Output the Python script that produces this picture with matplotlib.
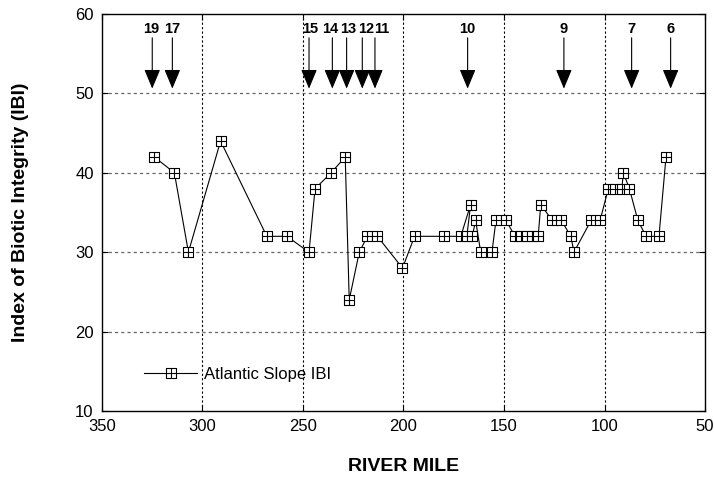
import matplotlib
matplotlib.use("Agg")
import matplotlib.pyplot as plt
from matplotlib.path import Path

plt.rcParams['font.family'] = ['Liberation Sans', 'DejaVu Sans']

# ---- data ----
river_mile = [324, 314, 307, 291, 268, 258, 247, 244, 236, 229, 227, 222, 218, 213,
              200.5, 194.5, 180, 171.5, 166.6, 168.5, 165.8, 164.1, 161.6, 156, 154, 149,
              144.5, 141.5, 138.7, 135.9, 133, 131.7, 126, 121.5, 116.7, 115.2,
              106.7, 102.2, 98.1, 94.8, 91.4, 90.6, 87.6, 83.4, 79.3, 72.9, 69.4]
ibi = [42, 40, 30, 44, 32, 32, 30, 38, 40, 42, 24, 30, 32, 32,
       28, 32, 32, 32, 36, 32, 32, 34, 30, 30, 34, 34,
       32, 32, 32, 32, 32, 36, 34, 34, 32, 30,
       34, 34, 38, 38, 38, 40, 38, 34, 32, 32, 42]

site_labels = ['19', '17', '15', '14', '13', '12', '11', '10', '9', '7', '6']
site_miles = [325, 315, 247, 235.4, 228.3, 220.5, 214.2, 168.1, 120.2, 86.5, 67.1]
site_label_miles = [325.5, 315, 246.4, 236.6, 227.5, 218.8, 210.6, 168.1, 120.2, 86.5, 67.1]

x_ticks = [350, 300, 250, 200, 150, 100, 50]
y_ticks = [10, 20, 30, 40, 50, 60]

# ---- marker: square with cross ----
verts = [(-1, -1), (1, -1), (1, 1), (-1, 1), (-1, -1),
         (0, -1), (0, 1), (-1, 0), (1, 0)]
codes = [Path.MOVETO, Path.LINETO, Path.LINETO, Path.LINETO, Path.CLOSEPOLY,
         Path.MOVETO, Path.LINETO, Path.MOVETO, Path.LINETO]
box_cross = Path(verts, codes)

fig = plt.figure(figsize=(7.14, 4.84), dpi=100)
ax = fig.add_axes([102/714, 1-411/484, 603/714, 397/484])

ax.plot(river_mile, ibi, color='black', lw=0.8, marker=box_cross, markersize=7,
        markerfacecolor='white', markeredgecolor='black', markeredgewidth=0.8,
        label='Atlantic Slope IBI', zorder=3)

ax.set_xlim(350, 50)
ax.set_ylim(10, 60)
ax.set_xticks(x_ticks)
ax.set_yticks(y_ticks)
ax.tick_params(direction='in', length=4, width=0.8, top=True, right=True,
               labelsize=12, pad=6)

for v in x_ticks[1:-1]:
    ax.axvline(v, color='black', lw=0.8, ls=(0, (2, 2)), zorder=1)
for v in y_ticks[1:-1]:
    ax.axhline(v, color='#666666', lw=0.9, ls=(0, (2.5, 2.5)), zorder=1)

for s in ax.spines.values():
    s.set_linewidth(1.0)

for m in site_miles:
    ax.annotate('', xy=(m, 50.6), xytext=(m, 57.0),
                arrowprops=dict(arrowstyle='-|>,head_length=1.2,head_width=0.5',
                                color='black', lw=0.8, shrinkA=0, shrinkB=0,
                                mutation_scale=10))
for lab, lm in zip(site_labels, site_label_miles):
    ax.text(lm, 58.1, lab, ha='center', va='center', fontsize=10.5, fontweight='bold')

ax.set_xlabel('RIVER MILE', fontsize=14, fontweight='bold', labelpad=17)
ax.set_ylabel('Index of Biotic Integrity (IBI)', fontsize=14, fontweight='bold', labelpad=33)

ax.legend(loc='lower left', bbox_to_anchor=(0.045, 0.035), frameon=False, fontsize=12,
          handlelength=3.2, handletextpad=0.4)

fig.savefig('out.png', dpi=100)
